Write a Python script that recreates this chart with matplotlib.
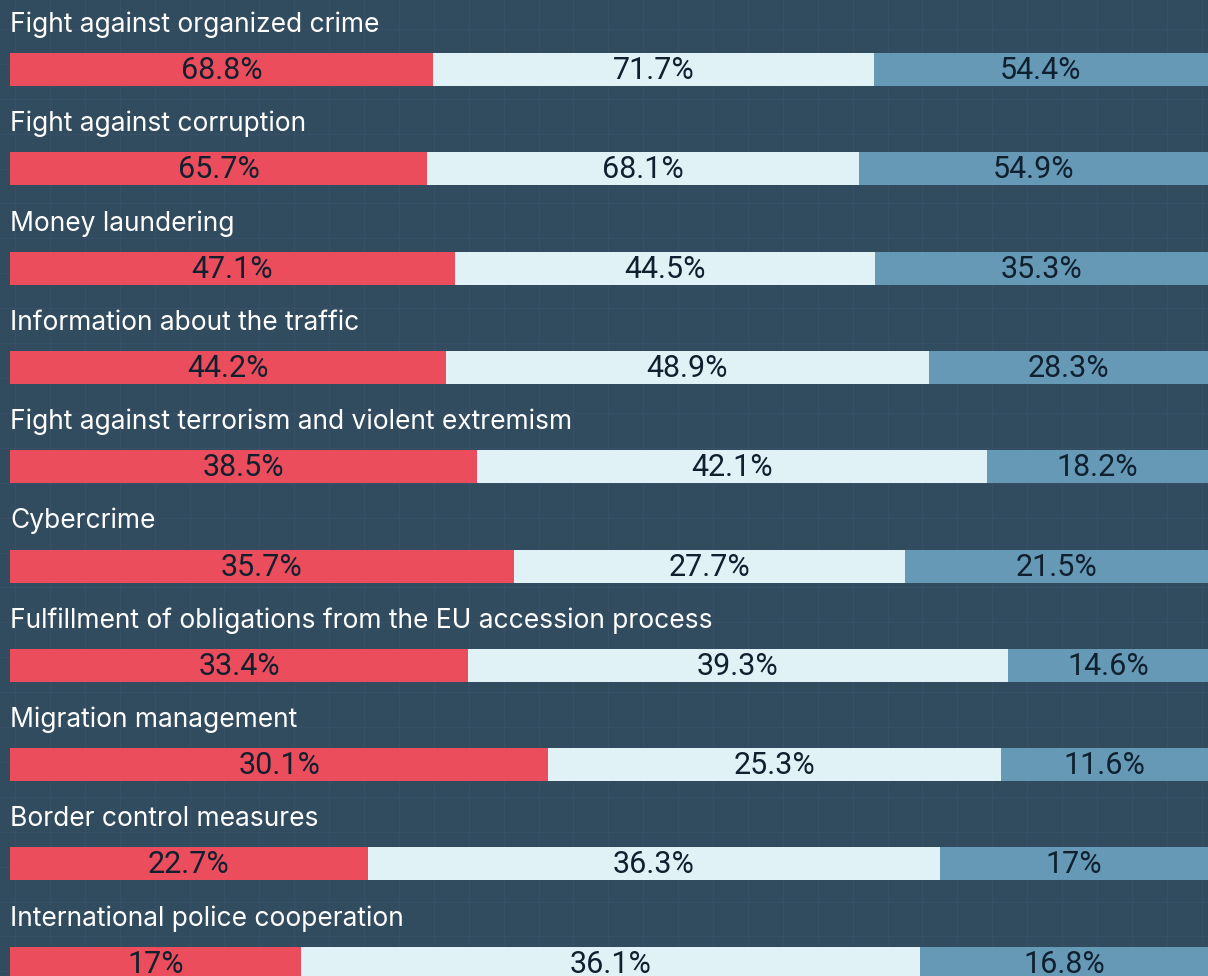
import matplotlib
matplotlib.use("Agg")
import matplotlib.pyplot as plt
import numpy as np

categories = [
    "Fight against organized crime",
    "Fight against corruption",
    "Money laundering",
    "Information about the traffic",
    "Fight against terrorism and violent extremism",
    "Cybercrime",
    "Fulfillment of obligations from the EU accession process",
    "Migration management",
    "Border control measures",
    "International police cooperation",
]
series_a = [68.8, 65.7, 47.1, 44.2, 38.5, 35.7, 33.4, 30.1, 22.7, 17.0]
series_b = [71.7, 68.1, 44.5, 48.9, 42.1, 27.7, 39.3, 25.3, 36.3, 36.1]
series_c = [54.4, 54.9, 35.3, 28.3, 18.2, 21.5, 14.6, 11.6, 17.0, 16.8]

colors = ["#ec4d5c", "#e1f2f7", "#6599b6"]
bg = "#314b5f"
grid_c = "#375066"
text_dark = "#10202f"

plt.rcParams['font.family'] = ['Inter', 'DejaVu Sans']

W, H = 1208, 976
fig = plt.figure(figsize=(W / 100, H / 100), dpi=100)
fig.patch.set_facecolor(bg)

# background grid
gax = fig.add_axes([0, 0, 1, 1])
gax.set_xlim(0, W)
gax.set_ylim(H, 0)
gax.axis("off")
step = 34.9
for x in np.arange(15, W, step):
    gax.axvline(x, color=grid_c, lw=1, zorder=0)
for y in np.arange(29 - step, H, step):
    gax.axhline(y, color=grid_c, lw=1, zorder=0)

ax = fig.add_axes([10 / W, 0, (W - 10) / W, 1])
ax.patch.set_alpha(0)
ax.set_xlim(0, 1)
ax.set_ylim(H, 0)
ax.axis("off")

first_center = 69.5
spacing = 99.3
bar_h = 33

def fmt(v):
    return f"{v:g}%"

for i, cat in enumerate(categories):
    vals = np.array([series_a[i], series_b[i], series_c[i]])
    frac = vals / vals.sum()
    yc = first_center + i * spacing
    left = 0.0
    for j in range(3):
        ax.barh(yc, frac[j], left=left, height=bar_h, color=colors[j],
                edgecolor="none", zorder=2)
        ax.text(left + frac[j] / 2, yc + 1, fmt(vals[j]), ha="center",
                va="center", fontsize=22, color=text_dark, zorder=3,
                family=['Roboto', 'DejaVu Sans'])
        left += frac[j]
    ax.text(0.0, yc - bar_h / 2 - 21, cat, ha="left", va="baseline",
            fontsize=19, color="white", zorder=3)

fig.savefig("out.png", dpi=100, facecolor=bg)
